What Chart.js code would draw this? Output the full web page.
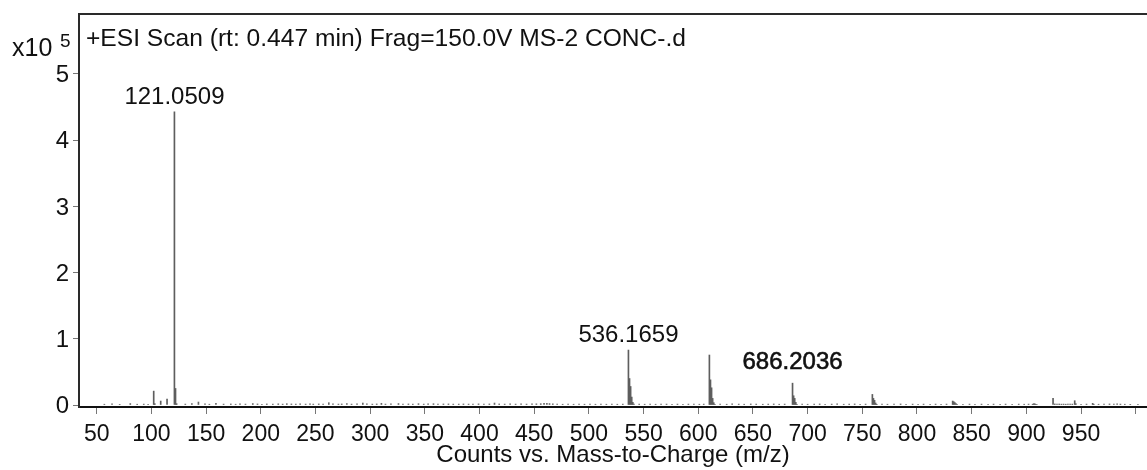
<!DOCTYPE html>
<html>
<head>
<meta charset="utf-8">
<script src="https://cdn.jsdelivr.net/npm/chart.js@4/dist/chart.umd.min.js"></script>
<style>
  html, body { margin: 0; padding: 0; background: #fff; }
  #c { display: block; }
</style>
</head>
<body>
<canvas id="c" width="1147" height="470"></canvas>
<script>
// Scan header and axis text
const scanTitle = '+ESI Scan (rt: 0.447 min) Frag=150.0V MS-2 CONC-.d';
const xAxisTitle = 'Counts vs. Mass-to-Charge (m/z)';
const countsPrefix = 'x10';
const countsExponent = '5';

// Main peaks with their isotope tails (counts in units of 10^5)
const peakMz = [
  102.1, 103.1, 108.5, 114.3,
  121.0509, 122.05, 123.05,
  536.1659, 537.17, 538.17, 539.17, 540.17, 541.2,
  610.18, 611.18, 612.18, 613.18, 614.18, 615.2,
  686.2036, 687.2, 688.2, 689.2, 690.2,
  759.2, 760.2, 761.2, 762.2, 763.2,
  832.6, 833.6, 834.6, 835.6, 836.6,
  905.7, 906.7, 907.7, 908.7, 909.7,
  924.4, 926, 928, 930, 932, 934, 936, 938, 940, 942,
  944.2, 945.2, 960.6, 961.6
];
const peakCounts = [
  0.21, 0.02, 0.06, 0.09,
  4.43, 0.25, 0.02,
  0.83, 0.40, 0.28, 0.12, 0.04, 0.015,
  0.755, 0.38, 0.26, 0.10, 0.035, 0.012,
  0.33, 0.14, 0.10, 0.04, 0.012,
  0.16, 0.10, 0.07, 0.03, 0.01,
  0.06, 0.05, 0.035, 0.02, 0.01,
  0.012, 0.02, 0.018, 0.012, 0.008,
  0.10, 0.016, 0.014, 0.015, 0.013, 0.014, 0.012, 0.014, 0.013, 0.014,
  0.065, 0.02, 0.025, 0.012
];

// Low-level signal along the baseline
const baselineMz = [
  57, 64, 71, 80.7, 87, 93, 97,
  131, 137, 143, 149, 153, 159, 166, 172.6, 177, 181, 186, 192.7, 197,
  201, 205.5, 211, 216, 220, 223.8, 228, 232, 236, 241, 245, 248, 253, 257,
  262.2, 266, 271, 274, 278.7, 283, 288, 293.3, 297, 302, 306, 310.3, 314,
  319, 325.9, 330, 335, 339, 344.2, 349, 353, 357.9, 362, 367, 371.6, 376,
  381, 385.3, 390, 394, 399.1, 404, 409, 413.7, 418, 423, 428, 433, 438,
  443, 448, 452, 456, 459, 461.6, 464, 467, 471, 476, 481, 486, 491, 496,
  501, 506, 511, 516, 521, 526, 531,
  546, 551, 556, 561, 566, 571, 576, 581, 586, 591, 596, 601, 605,
  620, 626, 631, 637, 642, 648, 653, 659, 664, 669, 674, 679,
  695, 700, 706, 711, 716, 722, 727, 733, 738, 743, 748, 753,
  768, 773, 779, 785, 790, 796, 801, 806, 812, 817, 822, 827,
  842, 848, 853, 859, 865, 870, 876, 881, 887, 893, 898, 902,
  950, 955, 966, 971, 976, 980, 983, 986, 990, 995, 1002
];
const baselineCounts = [
  0.012, 0.018, 0.01, 0.022, 0.012, 0.014, 0.01,
  0.014, 0.022, 0.045, 0.016, 0.012, 0.026, 0.014, 0.016, 0.012, 0.018, 0.014, 0.022, 0.016,
  0.012, 0.016, 0.014, 0.018, 0.014, 0.02, 0.016, 0.014, 0.018, 0.014, 0.016, 0.014, 0.016, 0.014,
  0.035, 0.016, 0.014, 0.016, 0.02, 0.014, 0.016, 0.03, 0.018, 0.014, 0.016, 0.026, 0.014,
  0.016, 0.022, 0.014, 0.016, 0.014, 0.02, 0.014, 0.016, 0.02, 0.014, 0.016, 0.016, 0.014,
  0.014, 0.016, 0.014, 0.014, 0.017, 0.014, 0.016, 0.03, 0.016, 0.014, 0.016, 0.014, 0.016,
  0.014, 0.016, 0.018, 0.02, 0.024, 0.027, 0.022, 0.018, 0.014, 0.012, 0.014, 0.012, 0.014, 0.012,
  0.014, 0.012, 0.014, 0.012, 0.014, 0.012, 0.014,
  0.014, 0.012, 0.014, 0.012, 0.014, 0.014, 0.012, 0.014, 0.012, 0.014, 0.014, 0.012, 0.014,
  0.014, 0.012, 0.016, 0.014, 0.012, 0.016, 0.014, 0.012, 0.014, 0.016, 0.012, 0.014,
  0.014, 0.012, 0.014, 0.016, 0.012, 0.014, 0.016, 0.012, 0.014, 0.016, 0.012, 0.014,
  0.014, 0.012, 0.014, 0.016, 0.012, 0.014, 0.012, 0.014, 0.012, 0.014, 0.012, 0.014,
  0.012, 0.014, 0.012, 0.014, 0.012, 0.014, 0.012, 0.014, 0.012, 0.014, 0.012, 0.014,
  0.012, 0.014, 0.012, 0.014, 0.016, 0.014, 0.016, 0.014, 0.012, 0.01, 0.01
];

// Peaks that carry an m/z annotation
const labelledMz = [121.0509, 536.1659, 686.2036];

// Axis ticks
const xTickValues = [50, 100, 150, 200, 250, 300, 350, 400, 450, 500, 550, 600, 650, 700, 750, 800, 850, 900, 950, 1000];
const xTickLabels = ['50', '100', '150', '200', '250', '300', '350', '400', '450', '500', '550', '600', '650', '700', '750', '800', '850', '900', '950', ''];
const yTickValues = [0, 1, 2, 3, 4, 5];

// Drawing styles for the annotations (gap above the peak top, extra stroke)
const labelGap = [8, 8, 14];
const labelStroke = [0, 0, 0.6];

const FONT = "'Liberation Sans', Arial, Helvetica, sans-serif";

const toPoints = (xs, ys) => xs.map((x, i) => ({ x, y: ys[i] }));

const spectrumDecor = {
  id: 'spectrumDecor',
  afterDraw(chart) {
    const { ctx, chartArea: a, scales: { x, y } } = chart;
    ctx.save();
    // top frame line
    ctx.strokeStyle = '#2a2a2a';
    ctx.lineWidth = 2;
    ctx.beginPath();
    ctx.moveTo(a.left - 1, a.top);
    ctx.lineTo(a.right, a.top);
    ctx.stroke();

    // scan description inside the plot
    ctx.fillStyle = '#111';
    ctx.textAlign = 'left';
    ctx.textBaseline = 'alphabetic';
    ctx.font = `24.6px ${FONT}`;
    ctx.fillText(scanTitle, a.left + 7, 46);

    // count multiplier
    ctx.font = `25px ${FONT}`;
    ctx.fillText(countsPrefix, 12, 56);
    ctx.font = `19px ${FONT}`;
    ctx.fillText(countsExponent, 60, 47);

    // peak annotations
    ctx.textAlign = 'center';
    ctx.font = `24px ${FONT}`;
    labelledMz.forEach((mz, i) => {
      const idx = peakMz.indexOf(mz);
      const px = x.getPixelForValue(mz);
      const py = y.getPixelForValue(peakCounts[idx]) - labelGap[i];
      const txt = mz.toFixed(4);
      ctx.fillText(txt, px, py);
      if (labelStroke[i] > 0) {
        ctx.lineWidth = labelStroke[i];
        ctx.strokeStyle = '#111';
        ctx.strokeText(txt, px, py);
      }
    });
    ctx.restore();
  }
};

new Chart(document.getElementById('c'), {
  type: 'bar',
  data: {
    datasets: [
      {
        data: toPoints(baselineMz, baselineCounts),
        backgroundColor: '#6a6a6a',
        barThickness: 1,
        grouped: false
      },
      {
        data: toPoints(peakMz, peakCounts),
        backgroundColor: '#5e5e5e',
        barThickness: 1,
        grouped: false
      }
    ]
  },
  options: {
    responsive: false,
    devicePixelRatio: 1,
    animation: false,
    layout: { padding: { top: 14, left: 0, right: 0, bottom: 0 } },
    plugins: { legend: { display: false }, tooltip: { enabled: false } },
    scales: {
      x: {
        type: 'linear',
        min: 33.8,
        max: 1010.3,
        offset: false,
        afterBuildTicks: s => { s.ticks = xTickValues.map(v => ({ value: v })); },
        afterFit: s => { s.height = 63; s.paddingLeft = 0; s.paddingRight = 0; },
        ticks: {
          autoSkip: false,
          maxRotation: 0,
          padding: 7,
          color: '#111',
          font: { family: FONT, size: 23 },
          callback: (v, i) => xTickLabels[i]
        },
        grid: { display: true, offset: false, drawOnChartArea: false, drawTicks: true, tickLength: 7, color: '#777' },
        border: { display: true, color: '#111', width: 2 },
        title: {
          display: true,
          text: xAxisTitle,
          color: '#111',
          font: { family: FONT, size: 24 },
          padding: { top: 0, bottom: 0 }
        }
      },
      y: {
        min: -0.03,
        max: 5.906,
        afterBuildTicks: s => { s.ticks = yTickValues.map(v => ({ value: v })); },
        afterFit: s => { s.width = 79; s.paddingTop = 0; s.paddingBottom = 0; },
        ticks: {
          padding: 4,
          labelOffset: 1.5,
          color: '#111',
          font: { family: FONT, size: 24 },
          callback: v => String(v)
        },
        grid: { display: true, drawOnChartArea: false, drawTicks: true, tickLength: 6, color: '#777' },
        border: { display: true, color: '#2a2a2a', width: 2 }
      }
    }
  },
  plugins: [spectrumDecor]
});
</script>
</body>
</html>
